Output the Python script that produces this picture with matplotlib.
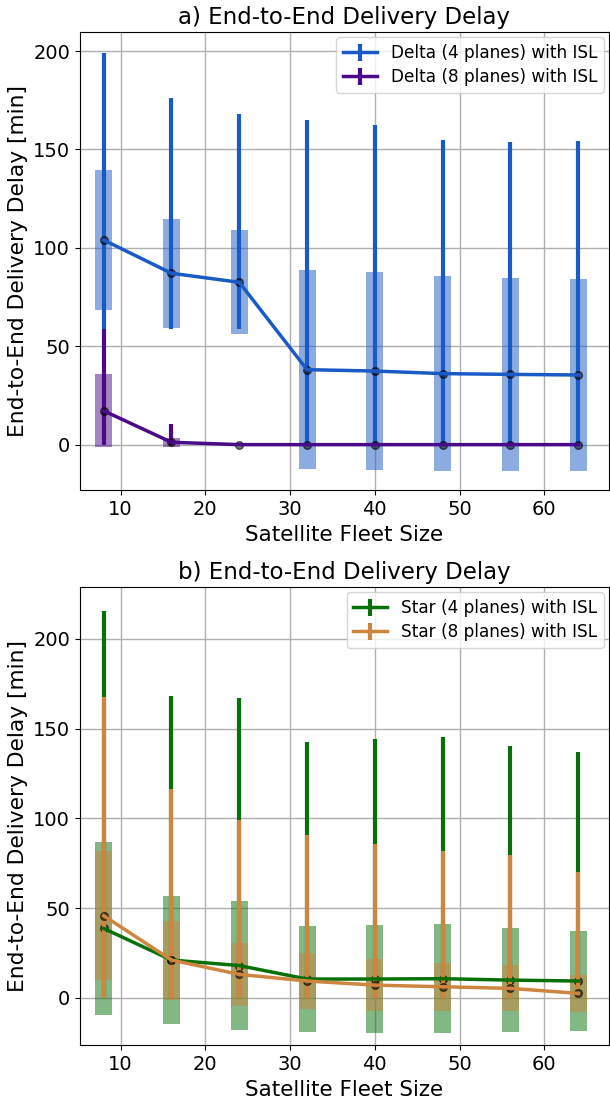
import numpy as np
import matplotlib
matplotlib.use("Agg")
import matplotlib.pyplot as plt
from matplotlib.ticker import MultipleLocator

# Fleet sizes
fleet = [8, 16, 24, 32, 40, 48, 56, 64]

# a) Delta constellations: mean, std, min, max [min]
delta4_mean = [104.0, 87.1, 82.5, 38.1, 37.4, 36.1, 35.7, 35.4]
delta4_std = [35.6, 27.6, 26.5, 50.6, 50.3, 49.4, 49.2, 48.8]
delta4_min = [58.6, 58.6, 58.6, 0.0, 0.0, 0.0, 0.0, 0.0]
delta4_max = [199.0, 176.0, 167.9, 164.8, 162.5, 154.9, 153.9, 154.5]

delta8_mean = [17.2, 1.2, 0.0, 0.0, 0.0, 0.0, 0.0, 0.0]
delta8_std = [18.6, 2.3, 0.0, 0.0, 0.0, 0.0, 0.0, 0.0]
delta8_min = [0.0, 0.0, 0.0, 0.0, 0.0, 0.0, 0.0, 0.0]
delta8_max = [58.8, 10.5, 0.0, 0.0, 0.0, 0.0, 0.0, 0.0]

# b) Star constellations
star4_mean = [38.7, 21.1, 18.0, 10.5, 10.5, 10.7, 9.9, 9.4]
star4_std = [48.4, 35.7, 36.0, 29.5, 30.0, 30.3, 29.0, 28.0]
star4_min = [0.0, 0.0, 0.0, 0.0, 0.0, 0.0, 0.0, 0.0]
star4_max = [215.6, 168.4, 167.1, 142.4, 144.2, 145.5, 140.6, 137.2]

star8_mean = [45.8, 21.1, 13.1, 9.4, 7.1, 6.2, 5.3, 2.5]
star8_std = [35.9, 22.0, 17.6, 15.6, 14.4, 13.5, 12.8, 10.5]
star8_min = [0.0, 0.0, 0.0, 0.0, 0.0, 0.0, 0.0, 0.0]
star8_max = [167.9, 116.5, 99.3, 90.7, 85.6, 81.9, 79.5, 70.1]


def draw_series(ax, mean, std, mn, mx, color, label):
    x = np.array(fleet)
    mean = np.array(mean)
    std = np.array(std)
    # mean +/- std box
    ax.bar(x, 2 * std, bottom=mean - std, width=2, color=color, alpha=0.5)
    # min..max whisker plus mean line
    yerr = [mean - np.array(mn), np.array(mx) - mean]
    ax.errorbar(x, mean, yerr=yerr, fmt='-', color=color, lw=2.5,
                elinewidth=3, capsize=0, label=label)
    ax.plot(x, mean, 'o', ms=5.5, mfc=(0, 0, 0, 0.5), mec=(0, 0, 0, 0.6),
            mew=1.0)


fig, (ax1, ax2) = plt.subplots(2, 1, figsize=(6.1, 11.11), dpi=100)
plt.subplots_adjust(left=0.131, right=0.998, top=0.971, bottom=0.059,
                    hspace=0.212)

draw_series(ax1, delta4_mean, delta4_std, delta4_min, delta4_max,
            '#1a5ac4', 'Delta (4 planes) with ISL')
draw_series(ax1, delta8_mean, delta8_std, delta8_min, delta8_max,
            '#4b0a8a', 'Delta (8 planes) with ISL')

draw_series(ax2, star4_mean, star4_std, star4_min, star4_max,
            '#087008', 'Star (4 planes) with ISL')
draw_series(ax2, star8_mean, star8_std, star8_min, star8_max,
            '#cd853f', 'Star (8 planes) with ISL')

ax1.set_ylim(-23.2, 209.6)
ax1.yaxis.set_major_locator(MultipleLocator(50))
ax2.set_ylim(-26.5, 228.7)
ax2.yaxis.set_major_locator(MultipleLocator(50))

for ax, title in [(ax1, 'a) End-to-End Delivery Delay'),
                  (ax2, 'b) End-to-End Delivery Delay')]:
    ax.set_title(title, fontsize=16.5)
    ax.set_xlabel('Satellite Fleet Size', fontsize=15.5)
    ax.set_ylabel('End-to-End Delivery Delay [min]', fontsize=15.7)
    ax.tick_params(labelsize=14)
    ax.set_xlim(5.2, 67.6)
    ax.grid(True, color='#b0b0b0', lw=1)
    ax.set_axisbelow(True)
    ax.legend(loc='upper right', fontsize=12.2, labelspacing=0.35,
              borderaxespad=0.3, borderpad=0.4)

plt.savefig('out.png', dpi=100)
